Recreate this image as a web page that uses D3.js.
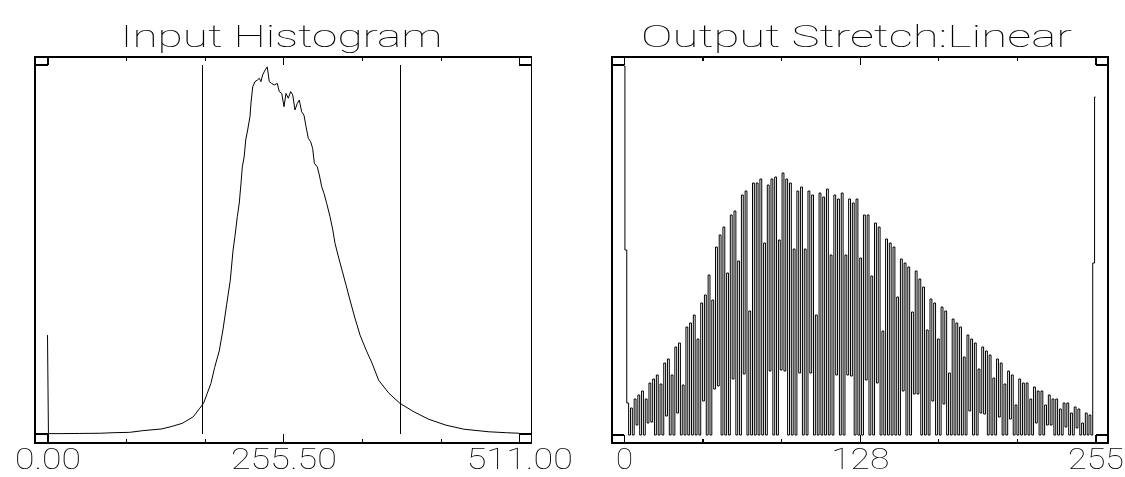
<!DOCTYPE html>
<html><head><meta charset="utf-8">
<script src="https://cdn.jsdelivr.net/npm/d3@7"></script>
<style>
html,body{margin:0;padding:0;background:#fff;}
svg{display:block;filter:grayscale(1);}
text{font-family:Roboto,"DejaVu Sans",sans-serif;font-weight:100;fill:#000;}
</style></head><body>
<svg id="chart" width="1125" height="477"></svg>
<script>
// ---------- DATA ----------
const panelTitles = ["Input Histogram", "Output Stretch:Linear"];

// Input histogram (level -> relative count, % of plot height)
const inputLevels = [0, 1, 13.5, 35, 57, 71, 89, 103, 123, 134, 146, 158, 165, 169, 173, 177, 181, 186, 190, 194, 198, 201, 203, 205.6, 207.7, 209.6, 211, 213, 214.7, 216.8, 219.3, 220.4, 222.3, 224.7, 227.2, 229.4, 231.2, 233, 235.6, 238, 240.2, 242.8, 245.6, 248.9, 251, 253.7, 256.2, 258.3, 260.8, 263.4, 265.6, 268, 270.6, 272.7, 275.3, 277.8, 280, 282.5, 285, 287.2, 289, 292.2, 294.4, 297, 299.5, 302.4, 306, 309, 311.4, 314.6, 319, 323.3, 327.6, 333, 338.5, 345, 351.5, 358.6, 369.9, 381.8, 397, 412.8, 431.6, 451, 478, 497, 511];
const inputCounts = [26.8, 0.1, 0.1, 0.15, 0.2, 0.35, 0.45, 0.9, 1.35, 2.0, 2.9, 4.7, 7.0, 8.3, 11.0, 13.7, 18.0, 22.5, 28.2, 35, 41.7, 49.9, 53.5, 58.9, 62.6, 68, 72.4, 75.1, 79.7, 82.4, 86, 89.7, 94.1, 95.5, 95.9, 96.4, 95.5, 97.3, 98.6, 99.5, 95.5, 95, 94.6, 95, 92.8, 92.3, 88.7, 92.3, 91, 92.8, 91.9, 87.8, 89.6, 90.5, 87.3, 86.4, 83.3, 80.1, 79.2, 77.4, 73.4, 72.4, 70.2, 67, 65.2, 62.5, 58.9, 55.3, 51.7, 48.5, 44.4, 40.4, 36.3, 31.4, 26.8, 22.8, 19.2, 14.6, 11.0, 8.3, 6.0, 4.0, 2.4, 1.3, 0.6, 0.35, 0.2];
const stretchMarkers = [168.1, 382.5];
const inputTickValues = [0, 85.17, 170.33, 255.5, 340.67, 425.83, 511];
const inputTickLabels = ["0.00", "", "", "255.50", "", "", "511.00"];

// Output (stretched) histogram, 256 bins, relative counts
const outputCounts = [
369, 185,
32, 0, 27, 0, 36, 10, 40, 0, 44, 0, 36, 12,
52, 13, 56, 0, 60, 0, 51, 0, 72, 19, 76, 0,
60, 0, 88, 22, 92, 0, 50, 0, 108, 0, 112, 0,
120, 0, 96, 0, 132, 34, 140, 0, 160, 0, 135, 46,
188, 49, 200, 0, 208, 0, 162, 0, 220, 56, 224, 0,
174, 0, 240, 61, 244, 0, 124, 0, 252, 0, 252, 0,
256, 0, 192, 0, 250, 64, 256, 0, 258, 0, 195, 65,
262, 64, 256, 0, 252, 0, 186, 0, 244, 62, 248, 0,
186, 0, 244, 62, 240, 0, 120, 0, 242, 0, 238, 0,
246, 0, 180, 0, 240, 60, 236, 0, 242, 0, 180, 60,
236, 59, 232, 0, 236, 0, 177, 0, 220, 55, 220, 0,
159, 0, 212, 52, 208, 0, 104, 0, 196, 0, 192, 0,
188, 0, 138, 0, 176, 44, 172, 0, 168, 0, 123, 41,
164, 41, 156, 0, 148, 0, 105, 0, 136, 34, 132, 0,
96, 0, 128, 31, 124, 0, 62, 0, 116, 0, 112, 0,
108, 0, 78, 0, 100, 24, 96, 0, 92, 0, 66, 22,
88, 21, 84, 0, 80, 0, 57, 0, 76, 18, 72, 0,
51, 0, 64, 16, 60, 0, 30, 0, 56, 0, 52, 0,
52, 0, 36, 0, 48, 12, 44, 0, 44, 0, 30, 10,
40, 10, 36, 0, 36, 0, 26, 0, 32, 8, 32, 0,
22, 0, 28, 7, 26, 0, 12, 0, 22, 0, 20, 0,
172, 338];
const outputTickValues = [0, 42.5, 85, 127.5, 170, 212.5, 255];
const outputTickLabels = ["0", "", "", "128", "", "", "255"];

// ---------- LAYOUT ----------
const svg = d3.select("#chart");
const panels = [
  {title: panelTitles[0], titleX: 120.5, titleW: 322,
   box: [35, 57, 531.5, 443], data: [47.5, 519.3], base: 434, top: 65,
   xDomain: [0, 511], yDomain: [0, 100],
   ticks: inputTickValues, labels: inputTickLabels,
   labelW: [66, 0, 0, 106, 0, 0, 106]},
  {title: panelTitles[1], titleX: 641, titleW: 431,
   box: [612, 57, 1108, 443], data: [624, 1095.5], base: 435, top: 65,
   xDomain: [0, 255], yDomain: [0, 370],
   ticks: outputTickValues, labels: outputTickLabels,
   labelW: [17, 0, 0, 58, 0, 0, 56]}
];

panels.forEach((p, pi) => {
  const g = svg.append("g");
  const x = d3.scaleLinear().domain(p.xDomain).range(p.data);
  const y = d3.scaleLinear().domain(p.yDomain).range([p.base, p.top]);
  const [bl, bt, br, bb] = p.box;

  // title
  g.append("text").attr("x", p.titleX).attr("y", 46.5)
    .attr("font-size", 30.5).attr("textLength", p.titleW)
    .attr("lengthAdjust", "spacingAndGlyphs").text(p.title);

  // box
  g.append("rect").attr("x", bl).attr("y", bt).attr("width", br - bl).attr("height", bb - bt)
    .attr("fill", "none").attr("stroke", "#000").attr("stroke-width", 1.2)
    .attr("shape-rendering", "crispEdges");

  // corner brackets (horizontal parts)
  const brk = g.append("g").attr("stroke", "#000").attr("stroke-width", 1.2).attr("shape-rendering", "crispEdges");
  [[bl, x(p.xDomain[0]), y(p.yDomain[1])], [x(p.xDomain[1]), br, y(p.yDomain[1])],
   [bl, x(p.xDomain[0]), y(0)], [x(p.xDomain[1]), br, y(0)]].forEach(s => {
    brk.append("line").attr("x1", s[0]).attr("x2", s[1]).attr("y1", s[2]).attr("y2", s[2]);
  });

  // bottom axis
  const axB = d3.axisBottom(x).tickValues(p.ticks).tickSize(-4).tickFormat((d, i) => p.labels[i]);
  const gb = g.append("g").attr("transform", `translate(0,${bb})`).call(axB);
  gb.select(".domain").remove();
  gb.selectAll(".tick line").attr("stroke", "#000").attr("stroke-width", 1.2)
    .attr("shape-rendering", "crispEdges")
    .attr("y2", (d, i) => p.labels[i] ? -(bb - y(0)) : -4);
  gb.selectAll(".tick text").attr("y", 26).attr("dy", 0)
    .attr("font-size", 30).attr("fill", "#000")
    .style("font-family", "Roboto,'DejaVu Sans',sans-serif").style("font-weight", 100)
    .each(function(d, i) { if (p.labelW[i]) d3.select(this).attr("textLength", p.labelW[i]).attr("lengthAdjust", "spacingAndGlyphs"); });

  // top axis (ticks hang inward, no labels)
  const axT = d3.axisTop(x).tickValues(p.ticks).tickSize(-4).tickFormat("");
  const gt = g.append("g").attr("transform", `translate(0,${bt})`).call(axT);
  gt.select(".domain").remove();
  gt.selectAll(".tick line").attr("stroke", "#000").attr("stroke-width", 1.2)
    .attr("shape-rendering", "crispEdges")
    .attr("y2", (d, i) => p.labels[i] ? (y(p.yDomain[1]) - bt) : 4);

  // histogram line
  let pts, line;
  if (pi === 0) {
    pts = inputLevels.map((v, i) => [v, inputCounts[i]]);
    line = d3.line().x(d => x(d[0])).y(d => y(d[1]));
  } else {
    pts = outputCounts.map((v, i) => [i, v]);
    line = d3.line().x(d => x(d[0])).y(d => y(d[1])).curve(d3.curveStep);
  }
  g.append("path").attr("d", line(pts)).attr("fill", "none")
    .attr("stroke", "#000").attr("stroke-width", 1);

  // stretch markers
  if (pi === 0) {
    g.selectAll("line.marker").data(stretchMarkers).enter().append("line")
      .attr("class", "marker")
      .attr("x1", d => x(d)).attr("x2", d => x(d))
      .attr("y1", y(p.yDomain[1])).attr("y2", y(0))
      .attr("stroke", "#000").attr("stroke-width", 1.2).attr("shape-rendering", "crispEdges");
  }
});
</script>
</body></html>
